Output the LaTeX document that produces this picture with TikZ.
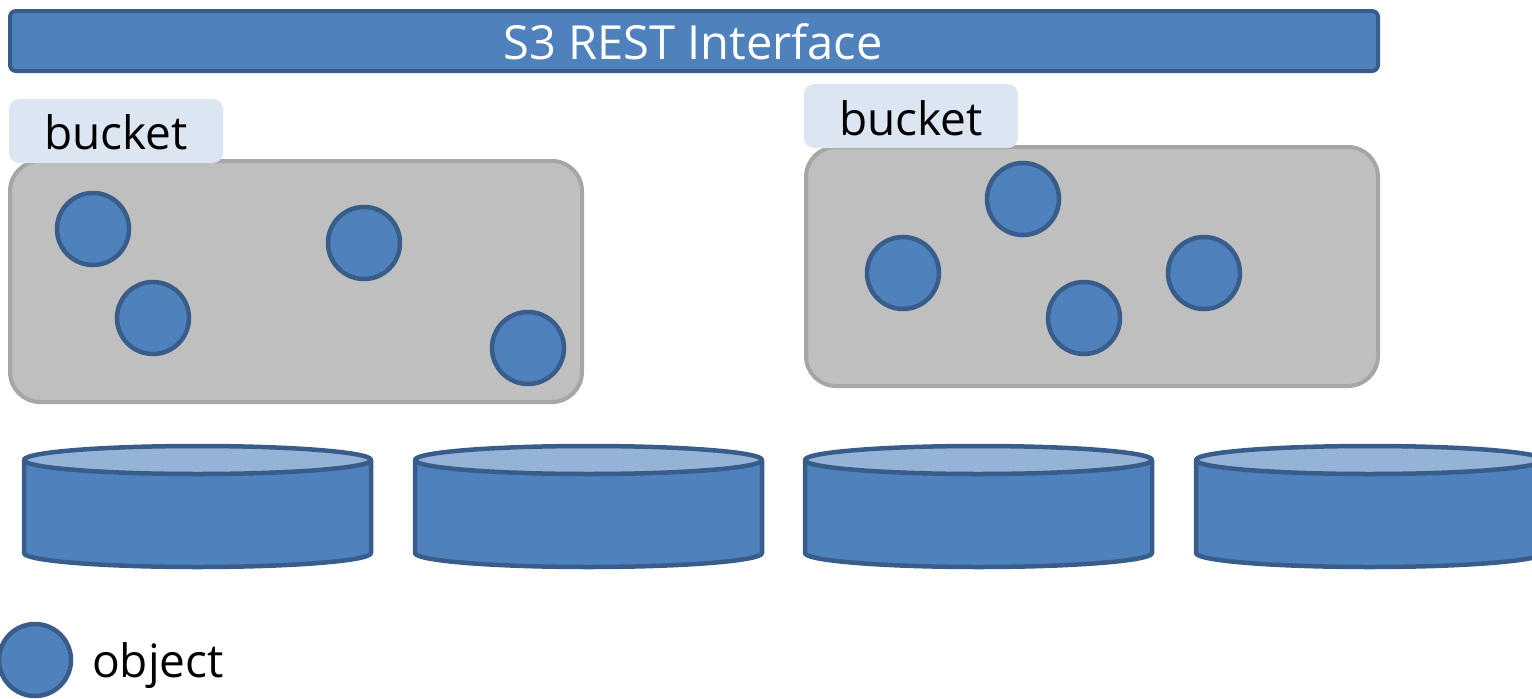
\documentclass[tikz,border=0pt]{standalone}
\usepackage{fontspec}
\setmainfont{Open Sans}
\definecolor{accblue}{HTML}{4F81BD}
\definecolor{accline}{HTML}{385D8A}
\definecolor{acclight}{HTML}{95B3D7}
\definecolor{lblfill}{HTML}{DCE6F2}
\definecolor{boxfill}{HTML}{BFBFBF}
\definecolor{boxline}{HTML}{A6A6A6}
\tikzset{
  obj/.style={circle,draw=accline,fill=accblue,line width=4.5pt,minimum size=72pt,inner sep=0pt},
  bucketbox/.style={draw=boxline,fill=boxfill,line width=4pt,rounded corners=30pt},
  disk/.style={draw=accline,line width=4.5pt,line join=round},
  bigtext/.style={font=\fontsize{46}{50}\selectfont},
}
\begin{document}
\begin{tikzpicture}[x=1pt,y=-1pt]
\useasboundingbox (0,0) rectangle (1532,699);
% interface bar
\draw[fill=accblue,draw=accline,line width=4pt,rounded corners=6pt] (10,11) rectangle (1378,71);
\node[text=white,font=\fontsize{47}{50}\selectfont] (iface) at (693,42) {S3 REST Interface};
% buckets
\draw[bucketbox] (10,161) rectangle (582,402);
\draw[bucketbox] (806,147) rectangle (1378,386);
\path[fill=lblfill,rounded corners=10pt] (9,99) rectangle (223,163);
\path[fill=lblfill,rounded corners=10pt] (804,84) rectangle (1018,148);
\node[bigtext] (b1) at (116,132) {bucket};
\node[bigtext] (b2) at (911,118) {bucket};
% objects in bucket 1
\node[obj] (o1) at (93,229) {};
\node[obj] (o2) at (153,318) {};
\node[obj] (o3) at (364,243) {};
\node[obj] (o4) at (528,348) {};
% objects in bucket 2
\node[obj] (o5) at (1023,199) {};
\node[obj] (o6) at (903,273) {};
\node[obj] (o7) at (1084,318) {};
\node[obj] (o8) at (1204,273) {};
% disks
\foreach \xa in {24,415,805,1196}{
  \pgfmathsetmacro{\xb}{\xa+347}
  \pgfmathsetmacro{\xc}{\xa+173.5}
  \fill[accblue] (\xa,460) -- (\xa,553) arc[start angle=180,end angle=360,x radius=173.5pt,y radius=14pt] -- (\xb,460) -- cycle;
  \draw[disk] (\xa,460) -- (\xa,553) arc[start angle=180,end angle=360,x radius=173.5pt,y radius=14pt] -- (\xb,460);
  \draw[disk,fill=acclight] (\xc,460) ellipse[x radius=173.5pt,y radius=14pt];
}
% legend
\node[obj] (leg) at (35,660) {};
\node[anchor=west,bigtext,inner sep=0pt] (legt) at (92,666) {object};
\end{tikzpicture}
\end{document}
